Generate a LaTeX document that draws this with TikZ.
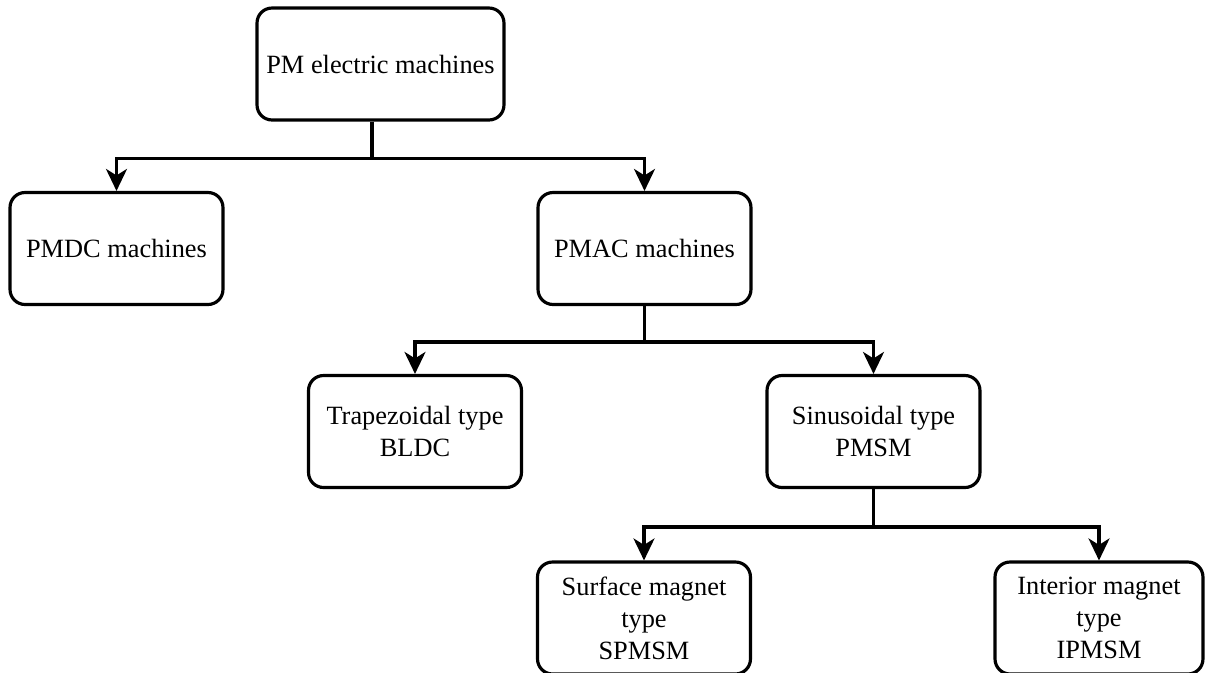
\documentclass[tikz,border=0pt]{standalone}
\usepackage{fontspec}
\setmainfont{Liberation Serif}
\usetikzlibrary{arrows.meta}
\begin{document}
\begin{tikzpicture}[x=0.02cm,y=-0.02cm,
  box/.style={draw, line width=1.8pt, rounded corners=0.3cm,
    minimum width=4.26cm, minimum height=2.24cm, inner sep=0pt,
    align=center, font=\fontsize{15}{18.3}\selectfont},
  link/.style={line width=1.8pt,
    -{Stealth[length=0.44cm,width=0.42cm,inset=0.13cm]}},
  ]
\clip (0,0) rectangle (1205,673);
\fill[white] (0,0) rectangle (1205,673);

% machine families
\node[box, minimum width=4.94cm] (root) at (380.5,64) {PM electric machines};
\node[box] (pmdc) at (116.5,248.5) {PMDC machines};
\node[box] (pmac) at (644.5,248.5) {PMAC machines};
\node[box] (trap) at (415,431.5) {Trapezoidal type\\BLDC};
\node[box] (sin) at (873.5,431.5) {Sinusoidal type\\PMSM};
\node[box] (surf) at (644,618) {Surface magnet\\type\\SPMSM};
\node[box, minimum width=4.16cm] (inter) at (1099,618) {Interior magnet\\type\\IPMSM};

% tree connectors
\draw[link] ([xshift=-0.17cm]root.south) -- ++(0,37) -| (pmdc.north);
\draw[link] ([xshift=-0.17cm]root.south) -- ++(0,37) -| (pmac.north);
\draw[link] (pmac.south) -- ++(0,36) -| (trap.north);
\draw[link] (pmac.south) -- ++(0,36) -| (sin.north);
\draw[link] (sin.south) -- ++(0,38) -| (surf.north);
\draw[link] (sin.south) -- ++(0,38) -| (inter.north);
\end{tikzpicture}
\end{document}
